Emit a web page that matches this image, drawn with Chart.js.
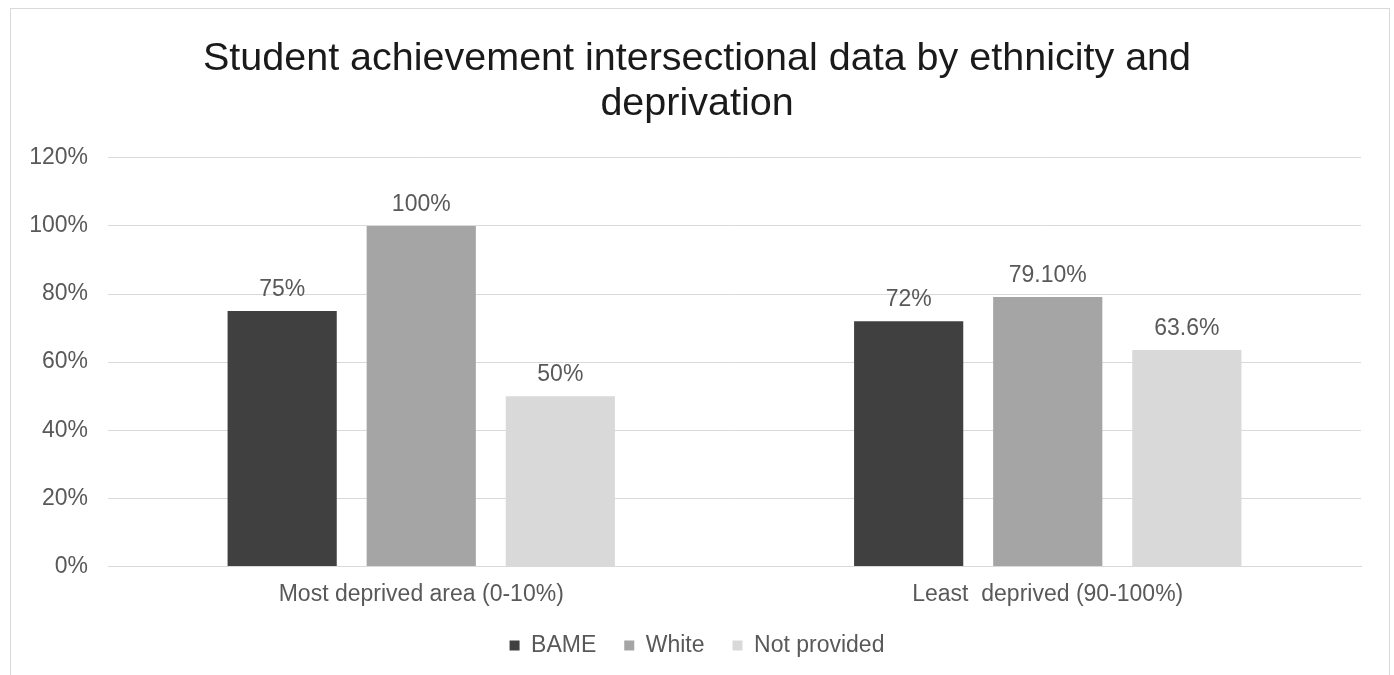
<!DOCTYPE html>
<html>
<head>
<meta charset="utf-8">
<script src="https://cdn.jsdelivr.net/npm/chart.js@4"></script>
<style>
  html, body { margin: 0; padding: 0; background: #fff; }
  #wrap { position: relative; width: 1394px; height: 675px; overflow: hidden; }
  #frame { position: absolute; left: 10px; top: 8px; width: 1378px; height: 700px; border: 1px solid #d9d9d9; }
  #chart { position: absolute; left: 0; top: 0; }
</style>
</head>
<body>
<div id="wrap">
  <div id="frame"></div>
  <canvas id="chart" width="1394" height="675"></canvas>
</div>
<script>
// ── Данные ──────────────────────────────────────────────
const categories = ['Most deprived area (0-10%)', 'Least  deprived (90-100%)'];
const seriesNames = ['BAME', 'White', 'Not provided'];
const bameValues = [75, 72];
const whiteValues = [100, 79.1];
const notProvidedValues = [50, 63.6];
// подписи над столбиками (как в оригинале, формат разный)
const bameLabels = ['75%', '72%'];
const whiteLabels = ['100%', '79.10%'];
const notProvidedLabels = ['50%', '63.6%'];
const yTicks = [0, 20, 40, 60, 80, 100, 120];

const FONT = 'Liberation Sans, Arial, sans-serif';
const TEXT = '#595959';

// Плагин: подписи значений над столбиками
const barLabels = {
  id: 'barLabels',
  afterDatasetsDraw(chart) {
    const ctx = chart.ctx;
    const all = [bameLabels, whiteLabels, notProvidedLabels];
    ctx.save();
    ctx.font = '23px ' + FONT;
    ctx.fillStyle = TEXT;
    ctx.textAlign = 'center';
    ctx.textBaseline = 'bottom';
    chart.data.datasets.forEach((ds, i) => {
      chart.getDatasetMeta(i).data.forEach((bar, j) => {
        ctx.fillText(all[i][j], bar.x, bar.y - 10);
      });
    });
    ctx.restore();
  }
};

new Chart(document.getElementById('chart'), {
  type: 'bar',
  data: {
    labels: categories,
    datasets: [
      { label: seriesNames[0], data: bameValues, backgroundColor: '#404040' },
      { label: seriesNames[1], data: whiteValues, backgroundColor: '#a5a5a5' },
      { label: seriesNames[2], data: notProvidedValues, backgroundColor: '#d9d9d9' },
    ],
  },
  options: {
    responsive: false,
    animation: false,
    categoryPercentage: 0.666,
    barPercentage: 0.785,
    layout: { padding: { left: 0, right: 0, top: 0, bottom: 8 } },
    plugins: {
      title: {
        display: true,
        text: ['Student achievement intersectional data by ethnicity and', 'deprivation'],
        color: '#1a1a1a',
        font: { family: FONT, size: 39.5, weight: 'normal', lineHeight: 1.125 },
        padding: { top: 37, bottom: 32 },
      },
      legend: {
        position: 'bottom',
        labels: {
          color: TEXT,
          font: { family: FONT, size: 23 },
          boxWidth: 10,
          boxHeight: 10,
          padding: 28,
        },
      },
      tooltip: { enabled: false },
    },
    scales: {
      x: {
        afterFit: (scale) => { scale.height -= 16; },
        grid: { display: false, drawTicks: false },
        border: { display: true, color: '#d9d9d9', width: 1 },
        ticks: { color: TEXT, font: { family: FONT, size: 23 }, padding: 14 },
      },
      y: {
        min: 0,
        max: 120,
        afterBuildTicks: (scale) => { scale.ticks = yTicks.map(v => ({ value: v })); },
        afterFit: (scale) => { scale.width = 108; },
        grid: { color: '#d9d9d9', lineWidth: 1, drawTicks: false },
        border: { display: false },
        ticks: {
          color: TEXT,
          font: { family: FONT, size: 23 },
          padding: 20,
          callback: (v) => v + '%',
        },
      },
      // пустая правая ось — только для отступа справа
      yRight: {
        position: 'right',
        min: 0,
        max: 120,
        afterFit: (scale) => { scale.width = 33; },
        grid: { display: false, drawTicks: false },
        border: { display: false },
        ticks: { display: false },
      },
    },
  },
  plugins: [barLabels],
});
</script>
</body>
</html>
